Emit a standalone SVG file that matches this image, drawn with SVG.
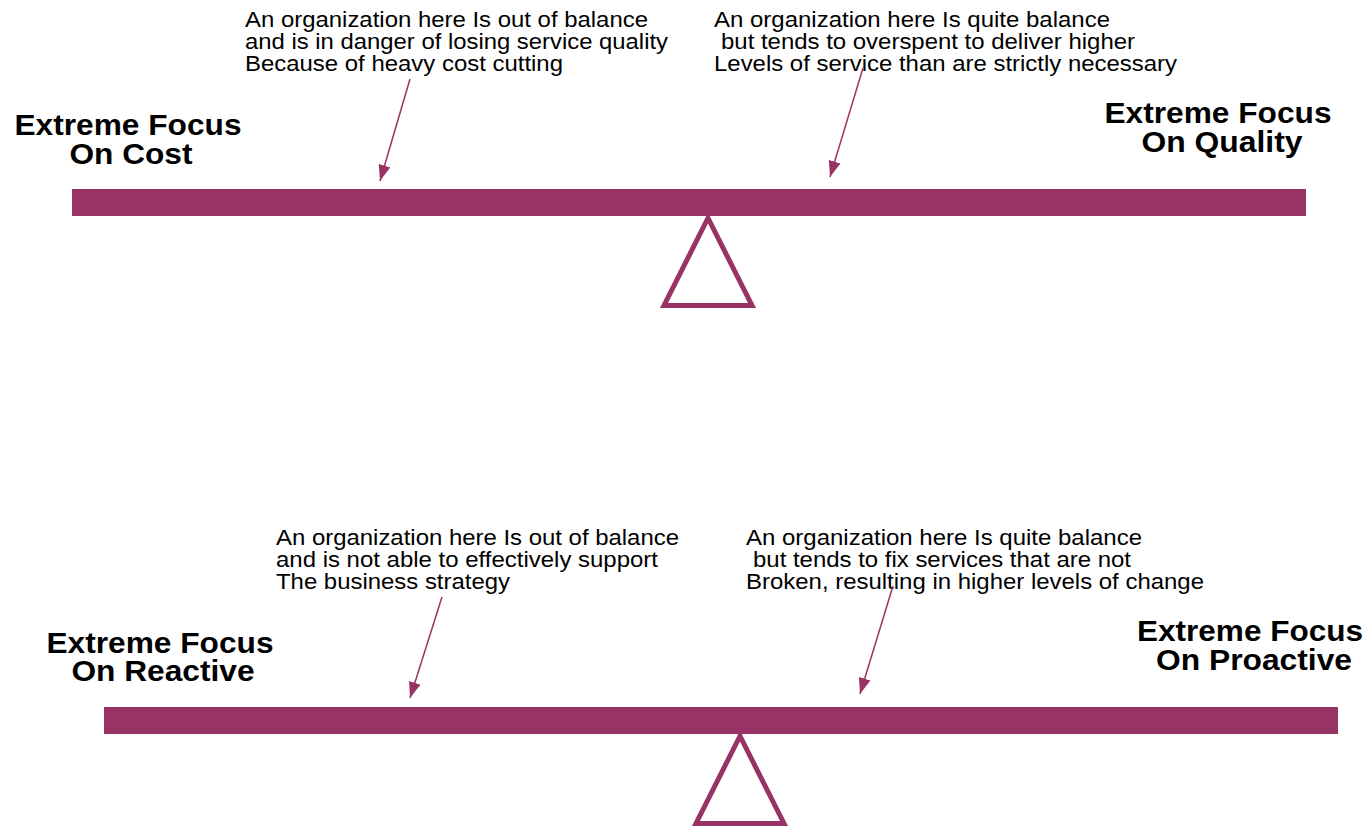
<svg xmlns="http://www.w3.org/2000/svg" width="1369" height="826" viewBox="0 0 1369 826">
<style>
.note{font-family:"Liberation Sans",Arial,sans-serif;font-size:22px;fill:#000}
.lab{font-family:"Liberation Sans",Arial,sans-serif;font-size:29px;font-weight:bold;fill:#000;text-anchor:middle}
.beam{fill:#993366}
.fulcrum{fill:none;stroke:#993366;stroke-width:5}
.arrow{stroke:#993366;stroke-width:1.5;fill:none;marker-end:url(#ah)}
</style>
<defs>
<marker id="ah" markerUnits="userSpaceOnUse" markerWidth="17" markerHeight="13" refX="16" refY="6" orient="auto">
<path d="M0,0 L16,6 L0,12 z" fill="#993366"/>
</marker>
</defs>
<rect width="1369" height="826" fill="#fff"/>

<g id="seesaw-top">
<polygon class="fulcrum" points="664,305.5 752,305.5 708,218"/>
<rect class="beam" x="72" y="189" width="1234" height="27"/>
</g>
<g id="seesaw-bottom">
<polygon class="fulcrum" points="696,823.5 784,823.5 740,736"/>
<rect class="beam" x="104" y="707" width="1234" height="27"/>
</g>

<g id="label-cost">
<text class="lab" x="128" y="135" textLength="227" lengthAdjust="spacingAndGlyphs">Extreme Focus</text>
<text class="lab" x="131" y="164" textLength="123" lengthAdjust="spacingAndGlyphs">On Cost</text>
</g>
<g id="label-quality">
<text class="lab" x="1218" y="123" textLength="227" lengthAdjust="spacingAndGlyphs">Extreme Focus</text>
<text class="lab" x="1222" y="152" textLength="161" lengthAdjust="spacingAndGlyphs">On Quality</text>
</g>
<g id="label-reactive">
<text class="lab" x="160" y="653" textLength="227" lengthAdjust="spacingAndGlyphs">Extreme Focus</text>
<text class="lab" x="163" y="681" textLength="183" lengthAdjust="spacingAndGlyphs">On Reactive</text>
</g>
<g id="label-proactive">
<text class="lab" x="1250" y="641" textLength="226" lengthAdjust="spacingAndGlyphs">Extreme Focus</text>
<text class="lab" x="1254" y="670" textLength="196" lengthAdjust="spacingAndGlyphs">On Proactive</text>
</g>

<g id="note-cost">
<text class="note" x="245" y="27" textLength="403" lengthAdjust="spacingAndGlyphs">An organization here Is out of balance</text>
<text class="note" x="245" y="49" textLength="423" lengthAdjust="spacingAndGlyphs">and is in danger of losing service quality</text>
<text class="note" x="245" y="70.5" textLength="318" lengthAdjust="spacingAndGlyphs">Because of heavy cost cutting</text>
</g>
<g id="note-quality">
<text class="note" x="714" y="27" textLength="396" lengthAdjust="spacingAndGlyphs">An organization here Is quite balance</text>
<text class="note" x="721" y="49" textLength="414" lengthAdjust="spacingAndGlyphs">but tends to overspent to deliver higher</text>
<text class="note" x="714" y="70.5" textLength="463" lengthAdjust="spacingAndGlyphs">Levels of service than are strictly necessary</text>
</g>
<g id="note-reactive">
<text class="note" x="276" y="545" textLength="403" lengthAdjust="spacingAndGlyphs">An organization here Is out of balance</text>
<text class="note" x="276" y="567" textLength="382" lengthAdjust="spacingAndGlyphs">and is not able to effectively support</text>
<text class="note" x="276" y="588.5" textLength="234" lengthAdjust="spacingAndGlyphs">The business strategy</text>
</g>
<g id="note-proactive">
<text class="note" x="746" y="545" textLength="396" lengthAdjust="spacingAndGlyphs">An organization here Is quite balance</text>
<text class="note" x="753" y="567" textLength="378" lengthAdjust="spacingAndGlyphs">but tends to fix services that are not</text>
<text class="note" x="746" y="588.5" textLength="458" lengthAdjust="spacingAndGlyphs">Broken, resulting in higher levels of change</text>
</g>

<g id="connectors">
<line class="arrow" x1="410" y1="79" x2="380" y2="181"/>
<line class="arrow" x1="863" y1="68" x2="830" y2="177"/>
<line class="arrow" x1="442" y1="597" x2="410" y2="698"/>
<line class="arrow" x1="893" y1="586" x2="860" y2="694"/>
</g>
</svg>
